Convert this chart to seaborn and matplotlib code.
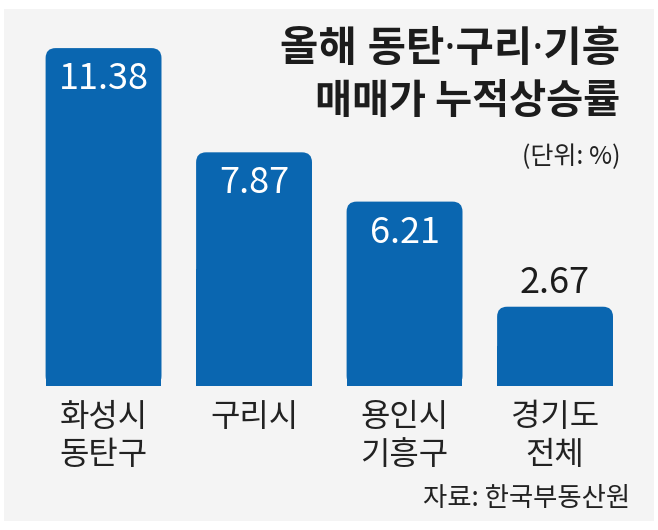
import matplotlib
matplotlib.use('Agg')
import matplotlib.pyplot as plt
import seaborn as sns
import pandas as pd
from matplotlib.patches import FancyBboxPatch, Rectangle

# data
categories = ['화성시\n동탄구', '구리시', '용인시\n기흥구', '경기도\n전체']
values = [11.38, 7.87, 6.21, 2.67]
value_labels = ['11.38', '7.87', '6.21', '2.67']
title_lines = ['올해 동탄·구리·기흥', '매매가 누적상승률']
unit_text = '(단위: %)'
source_text = '자료: 한국부동산원'

df = pd.DataFrame({'region': categories, 'rate': values})

sns.set_theme(style='white')
plt.rcParams['font.family'] = ['Noto Sans CJK KR', 'DejaVu Sans']

W, H = 658, 530
BAR = '#0a66b0'
INK = '#1c1c1c'

fig = plt.figure(figsize=(W / 100, H / 100), dpi=100)
fig.patch.set_facecolor('white')
fig.patches.append(Rectangle((4 / W, 9 / H), 650 / W, 512 / H, transform=fig.transFigure,
                             facecolor='#f4f4f4', edgecolor='none', zorder=-5))
ax = fig.add_axes([0, 0, 1, 1])
ax.set_facecolor('none')
ax.set_zorder(1)

sns.barplot(data=df, x='region', y='rate', color=BAR, width=0.77, saturation=1, ax=ax)

xmin, xmax = -0.688, 3.684
ymin, ymax = -4.85, 13.0
ax.set_xlim(xmin, xmax)
ax.set_ylim(ymin, ymax)

# rounded tops: swap seaborn's bars for rounded boxes of the same size
aspect = (W / (xmax - xmin)) / (H / (ymax - ymin))
r = 10 / (W / (xmax - xmin))
for p in list(ax.patches):
    x0, w, h = p.get_x(), p.get_width(), p.get_height()
    p.set_visible(False)
    ax.add_patch(FancyBboxPatch((x0, 0), w, h, boxstyle=f'round,pad=0,rounding_size={r}',
                                mutation_aspect=aspect, facecolor=BAR, edgecolor='none',
                                linewidth=0, zorder=2))
    ax.add_patch(Rectangle((x0, 0), w, h / 2, facecolor=BAR, edgecolor='none',
                           linewidth=0, zorder=2))

# value labels
for i, (v, lab) in enumerate(zip(values, value_labels)):
    if v > 4:
        ax.text(i, v - 1.05, lab, ha='center', va='center', color='white',
                fontsize=26, zorder=3)
    else:
        ax.text(i, v + 0.8, lab, ha='center', va='center', color=INK,
                fontsize=26, zorder=3)

# category labels under each bar
for i, cat in enumerate(categories):
    ax.text(i, -0.5, cat, ha='center', va='top', fontsize=23, color='#222222',
            linespacing=1.25, zorder=3)

ax.set_xticks([])
ax.set_yticks([])
ax.set_xlabel('')
ax.set_ylabel('')
sns.despine(ax=ax, left=True, bottom=True)

# titles
title_font = ['Noto Sans', 'Noto Sans CJK KR']
fig.text(620 / W, 1 - 50 / H, title_lines[0], ha='right', va='center', fontsize=30,
         fontweight='bold', color=INK, family=title_font)
fig.text(620 / W, 1 - 101 / H, title_lines[1], ha='right', va='center', fontsize=29,
         fontweight='bold', color=INK)
fig.text(620 / W, 1 - 157 / H, unit_text, ha='right', va='center', fontsize=18,
         color='#222222')
fig.text(630 / W, 1 - 499 / H, source_text, ha='right', va='center', fontsize=19,
         color='#222222')

fig.savefig('out.png', dpi=100, facecolor=fig.get_facecolor())
